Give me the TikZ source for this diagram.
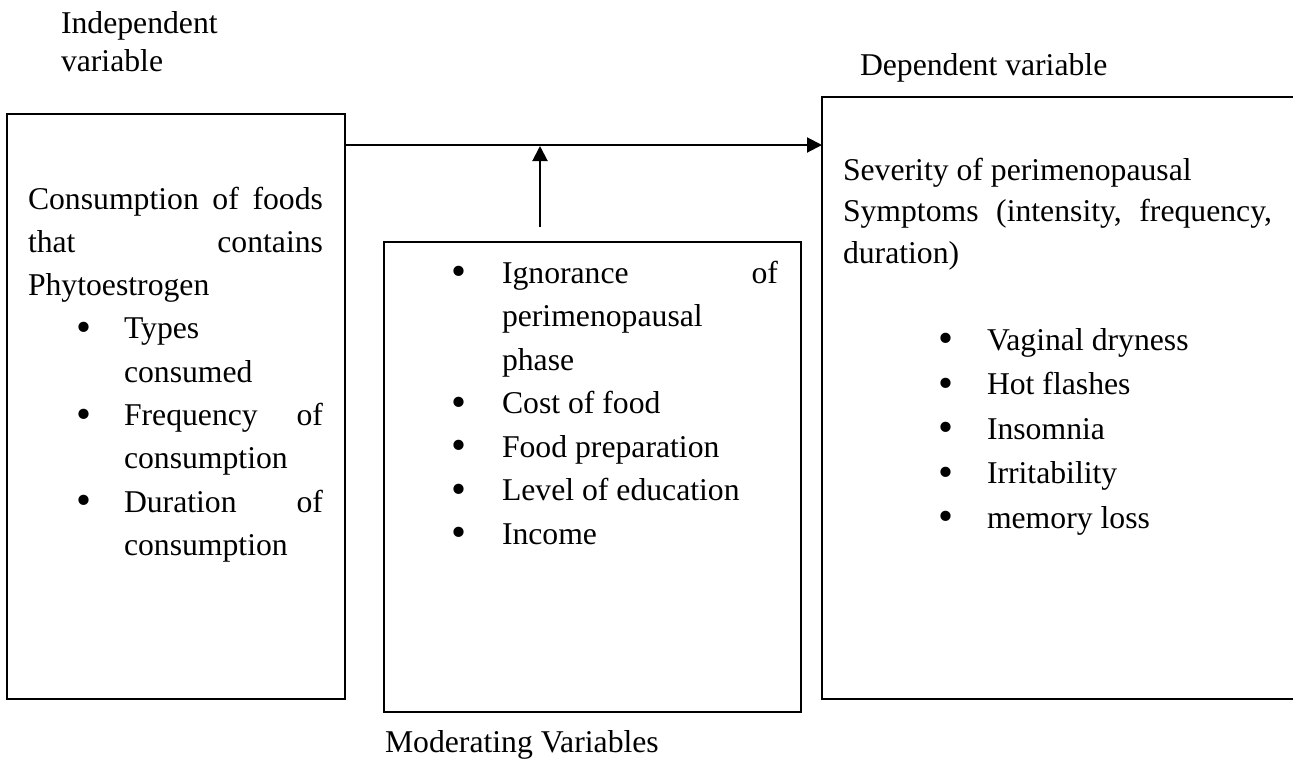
\documentclass[tikz,border=0pt]{standalone}
\usepackage{fontspec}
\setmainfont{Liberation Serif}
\usetikzlibrary{arrows.meta}
\newcommand\tl[2]{\hbox to #1pt{#2}}
\newcommand\bl[1]{\llap{\makebox[11pt][c]{\raisebox{-2.5pt}{\scalebox{1.35}{•}}}\hskip#1pt}}
\tikzset{
  lbl/.style={inner sep=0pt, outer sep=0pt, anchor=base west, font=\fontsize{31.7pt}{38pt}\selectfont},
  frame/.style={draw, line width=2pt, inner sep=0pt, outer sep=0pt, anchor=north west},
  arr/.style={line width=2pt, -{Triangle[length=15pt,width=15pt]}}
}
\begin{document}
\begin{tikzpicture}[x=1pt,y=-1pt]
\useasboundingbox (0,0) rectangle (1293,758);
\begin{scope}
\clip (0,0) rectangle (1293,758);
% boxes
\node[frame, minimum width=338pt, minimum height=585pt] (ivbox) at (7,114) {};
\node[frame, minimum width=417pt, minimum height=470pt] (mvbox) at (384,242) {};
\node[frame, minimum width=480pt, minimum height=602pt] (dvbox) at (822,97) {};
\end{scope}
% headings
\node[lbl] (ivhead) at (61,33) {\vtop{\baselineskip=38pt\hbox{Independent}\hbox{variable}}};
\node[lbl] (dvhead) at (860,75) {Dependent variable};
\node[lbl] (mvhead) at (385,752) {Moderating Variables};
% left text
\node[lbl] (ivtxt) at (28,209) {\vtop{\baselineskip=43.3pt
  \tl{295}{Consumption\hfill of\hfill foods}
  \tl{295}{that\hfill contains}
  \tl{295}{Phytoestrogen\hfil}
  \tl{295}{\hskip96pt\bl{35}Types\hfil}
  \tl{295}{\hskip96pt consumed\hfil}
  \tl{295}{\hskip96pt\bl{35}Frequency\hfill of}
  \tl{295}{\hskip96pt consumption\hfil}
  \tl{295}{\hskip96pt\bl{35}Duration\hfill of}
  \tl{295}{\hskip96pt consumption\hfil}}};
% middle text
\node[lbl] (mvtxt) at (502,283) {\vtop{\baselineskip=43.5pt
  \tl{276}{\bl{37.5}Ignorance\hfill of}
  \tl{276}{perimenopausal\hfil}
  \tl{276}{phase\hfil}
  \tl{276}{\bl{37.5}Cost of food\hfil}
  \tl{276}{\bl{37.5}Food preparation\hfil}
  \tl{276}{\bl{37.5}Level of education\hfil}
  \tl{276}{\bl{37.5}Income\hfil}}};
% right text
\node[lbl] (dvtxt) at (843,180) {\vtop{\baselineskip=41.5pt
  \tl{429}{Severity of perimenopausal\hfil}
  \tl{429}{Symptoms\hfill (intensity,\hfill frequency,}
  \tl{429}{duration)\hfil}}};
\node[lbl] (dvlist) at (987,350) {\vtop{\baselineskip=44.5pt
  \tl{280}{\bl{35.5}Vaginal dryness\hfil}
  \tl{280}{\bl{35.5}Hot flashes\hfil}
  \tl{280}{\bl{35.5}Insomnia\hfil}
  \tl{280}{\bl{35.5}Irritability\hfil}
  \tl{280}{\bl{35.5}memory loss\hfil}}};
% connectors
\coordinate (mj) at (540,145);
\coordinate (ms) at (540,227);
\draw[arr] (ivbox.east |- mj) -- (dvbox.west |- mj);
\draw[arr, shorten >=1pt] (ms) -- (mj);
\end{tikzpicture}
\end{document}
